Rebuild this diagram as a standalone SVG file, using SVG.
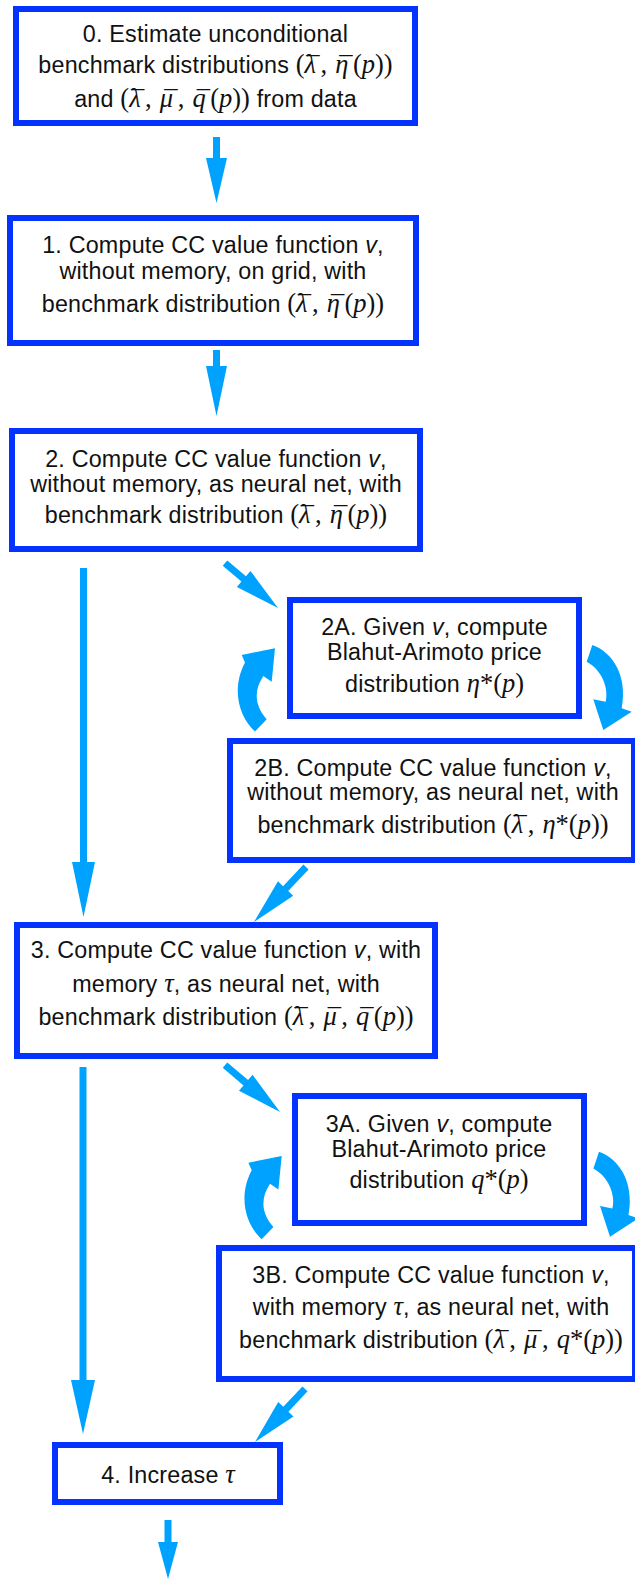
<svg xmlns="http://www.w3.org/2000/svg" xmlns:xlink="http://www.w3.org/1999/xlink" width="635" height="1579" viewBox="0 0 635 1579">
<style>
.box{fill:#ffffff;stroke:#0433FF;stroke-width:6}
.arr{fill:#00A2FF;stroke:none}
.t{font-family:"Liberation Sans",Arial,Helvetica,sans-serif;font-size:23.3px;fill:#111;text-anchor:middle;letter-spacing:0.2px}
.m{font-family:"Liberation Serif","Times New Roman",serif;font-size:26.5px;letter-spacing:0}
.i{font-style:italic}
</style>
<defs>
<path id="curlL" d="M 255 731.5 C 239 717, 231 689, 245 662.5 L 241.7 655 L 275 648.3 L 271.7 681.7 L 263.3 676 C 254 690, 254 705, 266.7 719.3 Z"/>
<path id="curlR" d="M 592.3 645 C 612 652, 628 675, 621.7 708.3 L 631.7 711.7 L 603.3 730 L 593.3 699.3 L 605.7 701.7 C 609 688, 602 670, 586.7 661.7 Z"/>
</defs>
<g id="connectors" class="arr">
<polygon points="213,137 220,137 220,158 227,158 216.5,203 206,158 213,158"/>
<polygon points="213,350 220,350 220,366 227,366 216.5,416 206,366 213,366"/>
<polygon points="80,568 87,568 87,862 95,862 83.5,917 72,862 80,862"/>
<polygon points="79.5,1067 86.5,1067 86.5,1380 95,1380 83,1434 71,1380 79.5,1380"/>
<polygon points="164.5,1520 171.5,1520 171.5,1542 178,1542 168,1579 158,1542 164.5,1542"/>
<polygon points="-69.5,-3.5 -45,-3.5 -45,-10.5 0,0 -45,10.5 -45,3.5 -69.5,3.5" transform="translate(278,608) rotate(40.3)"/>
<polygon points="-75.7,-3.5 -46,-3.5 -46,-10.5 0,0 -46,10.5 -46,3.5 -75.7,3.5" transform="translate(254,922) rotate(133.4)"/>
<polygon points="-72.3,-3.5 -45,-3.5 -45,-10.5 0,0 -45,10.5 -45,3.5 -72.3,3.5" transform="translate(280,1112) rotate(40.5)"/>
<polygon points="-72.9,-3.5 -45,-3.5 -45,-10.5 0,0 -45,10.5 -45,3.5 -72.9,3.5" transform="translate(255,1442) rotate(133.3)"/>
<use href="#curlL" xlink:href="#curlL"/>
<use href="#curlR" xlink:href="#curlR"/>
<use href="#curlL" xlink:href="#curlL" transform="translate(6.7,507.7)"/>
<use href="#curlR" xlink:href="#curlR" transform="translate(6.7,506.7)"/>
</g>
<g id="node0">
<rect class="box" x="16" y="9" width="399" height="114"/>
<text class="t" x="215.5" y="42">0. Estimate unconditional</text>
<text class="t" x="215.5" y="73">benchmark distributions <tspan class="m">(<tspan class="i">λ</tspan><tspan dx="-9.7" dy="3">¯</tspan><tspan dx="0.9" dy="-3">,</tspan><tspan dx="1.5"> </tspan><tspan class="i">η</tspan><tspan dx="-9" dy="3">¯</tspan><tspan dx="0.3" dy="-3">(</tspan><tspan class="i">p</tspan>))</tspan></text>
<text class="t" x="215.5" y="107">and <tspan class="m">(<tspan class="i">λ</tspan><tspan dx="-9.7" dy="3">¯</tspan><tspan dx="0.9" dy="-3">,</tspan><tspan dx="1.5"> </tspan><tspan class="i">μ</tspan><tspan dx="-9" dy="3">¯</tspan><tspan dx="0.3" dy="-3">,</tspan><tspan dx="1.5"> </tspan><tspan class="i">q</tspan><tspan dx="-9" dy="3">¯</tspan><tspan dx="0.3" dy="-3">(</tspan><tspan class="i">p</tspan>))</tspan> from data</text>
</g>
<g id="node1">
<rect class="box" x="10" y="218" width="406" height="125"/>
<text class="t" x="213" y="253">1. Compute CC value function <tspan class="i">v</tspan>,</text>
<text class="t" x="213" y="279">without memory, on grid, with</text>
<text class="t" x="213" y="312">benchmark distribution <tspan class="m">(<tspan class="i">λ</tspan><tspan dx="-9.7" dy="3">¯</tspan><tspan dx="0.9" dy="-3">,</tspan><tspan dx="1.5"> </tspan><tspan class="i">η</tspan><tspan dx="-9" dy="3">¯</tspan><tspan dx="0.3" dy="-3">(</tspan><tspan class="i">p</tspan>))</tspan></text>
</g>
<g id="node2">
<rect class="box" x="12" y="431" width="408" height="118"/>
<text class="t" x="216" y="467">2. Compute CC value function <tspan class="i">v</tspan>,</text>
<text class="t" x="216" y="492">without memory, as neural net, with</text>
<text class="t" x="216" y="523">benchmark distribution <tspan class="m">(<tspan class="i">λ</tspan><tspan dx="-9.7" dy="3">¯</tspan><tspan dx="0.9" dy="-3">,</tspan><tspan dx="1.5"> </tspan><tspan class="i">η</tspan><tspan dx="-9" dy="3">¯</tspan><tspan dx="0.3" dy="-3">(</tspan><tspan class="i">p</tspan>))</tspan></text>
</g>
<g id="node2A">
<rect class="box" x="290" y="600" width="289" height="116"/>
<text class="t" x="434.5" y="635">2A. Given <tspan class="i">v</tspan>, compute</text>
<text class="t" x="434.5" y="660">Blahut-Arimoto price</text>
<text class="t" x="434.5" y="692">distribution <tspan class="m"><tspan class="i">η</tspan>*(<tspan class="i">p</tspan>)</tspan></text>
</g>
<g id="node2B">
<rect class="box" x="230" y="741" width="404" height="119"/>
<text class="t" x="433" y="776">2B. Compute CC value function <tspan class="i">v</tspan>,</text>
<text class="t" x="433" y="800">without memory, as neural net, with</text>
<text class="t" x="433" y="833">benchmark distribution <tspan class="m">(<tspan class="i">λ</tspan><tspan dx="-9.7" dy="3">¯</tspan><tspan dx="0.9" dy="-3">,</tspan><tspan dx="1.5"> </tspan><tspan class="i">η</tspan>*(<tspan class="i">p</tspan>))</tspan></text>
</g>
<g id="node3">
<rect class="box" x="17" y="925" width="418" height="131"/>
<text class="t" x="226" y="958">3. Compute CC value function <tspan class="i">v</tspan>, with</text>
<text class="t" x="226" y="992">memory <tspan class="m i">τ</tspan>, as neural net, with</text>
<text class="t" x="226" y="1025">benchmark distribution <tspan class="m">(<tspan class="i">λ</tspan><tspan dx="-9.7" dy="3">¯</tspan><tspan dx="0.9" dy="-3">,</tspan><tspan dx="1.5"> </tspan><tspan class="i">μ</tspan><tspan dx="-9" dy="3">¯</tspan><tspan dx="0.3" dy="-3">,</tspan><tspan dx="1.5"> </tspan><tspan class="i">q</tspan><tspan dx="-9" dy="3">¯</tspan><tspan dx="0.3" dy="-3">(</tspan><tspan class="i">p</tspan>))</tspan></text>
</g>
<g id="node3A">
<rect class="box" x="295" y="1096" width="289" height="127"/>
<text class="t" x="439" y="1132">3A. Given <tspan class="i">v</tspan>, compute</text>
<text class="t" x="439" y="1157">Blahut-Arimoto price</text>
<text class="t" x="439" y="1188">distribution <tspan class="m"><tspan class="i">q</tspan>*(<tspan class="i">p</tspan>)</tspan></text>
</g>
<g id="node3B">
<rect class="box" x="219" y="1248" width="416" height="131"/>
<text class="t" x="431" y="1283">3B. Compute CC value function <tspan class="i">v</tspan>,</text>
<text class="t" x="431" y="1315">with memory <tspan class="m i">τ</tspan>, as neural net, with</text>
<text class="t" x="431" y="1348">benchmark distribution <tspan class="m">(<tspan class="i">λ</tspan><tspan dx="-9.7" dy="3">¯</tspan><tspan dx="0.9" dy="-3">,</tspan><tspan dx="1.5"> </tspan><tspan class="i">μ</tspan><tspan dx="-9" dy="3">¯</tspan><tspan dx="0.3" dy="-3">,</tspan><tspan dx="1.5"> </tspan><tspan class="i">q</tspan>*(<tspan class="i">p</tspan>))</tspan></text>
</g>
<g id="node4">
<rect class="box" x="55" y="1445" width="225" height="57"/>
<text class="t" x="168" y="1483">4. Increase <tspan class="m i">τ</tspan></text>
</g>
</svg>
